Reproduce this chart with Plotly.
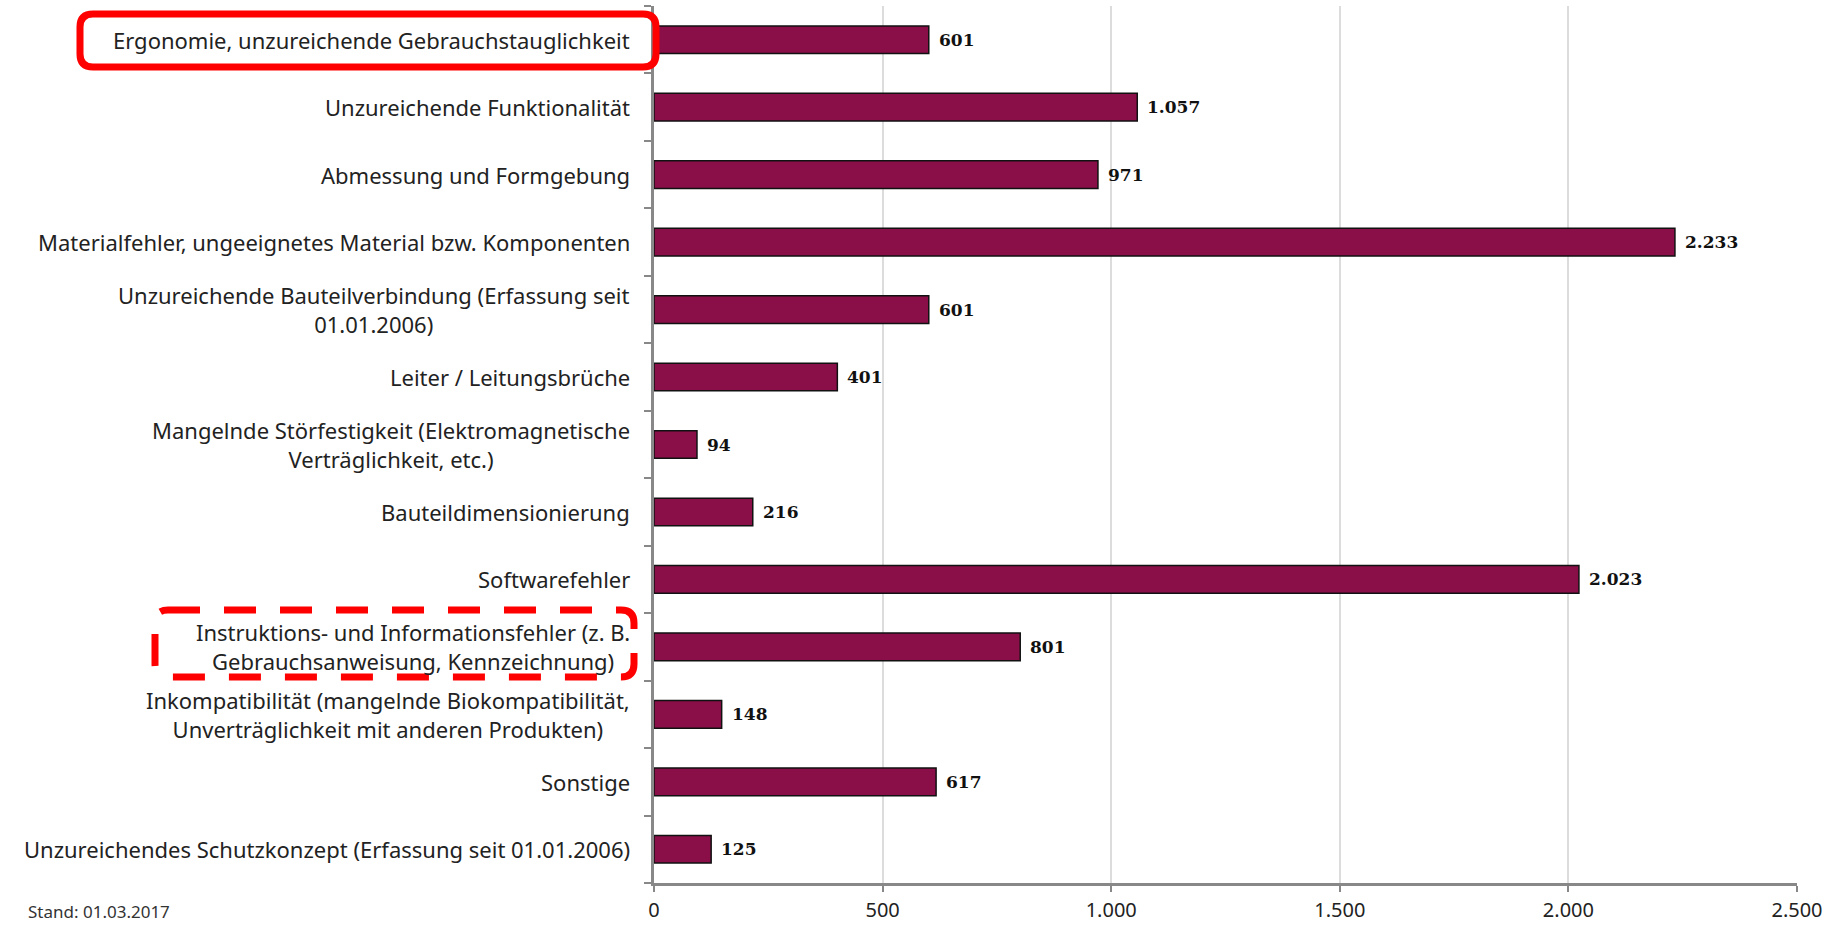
import plotly.graph_objects as go

categories = [
    "Ergonomie, unzureichende Gebrauchstauglichkeit",
    "Unzureichende Funktionalität",
    "Abmessung und Formgebung",
    "Materialfehler, ungeeignetes Material bzw. Komponenten",
    "Unzureichende Bauteilverbindung (Erfassung seit<br>01.01.2006)",
    "Leiter / Leitungsbrüche",
    "Mangelnde Störfestigkeit (Elektromagnetische<br>Verträglichkeit, etc.)",
    "Bauteildimensionierung",
    "Softwarefehler",
    "Instruktions- und Informationsfehler (z. B.<br>Gebrauchsanweisung, Kennzeichnung)",
    "Inkompatibilität (mangelnde Biokompatibilität,<br>Unverträglichkeit mit anderen Produkten)",
    "Sonstige",
    "Unzureichendes Schutzkonzept (Erfassung seit 01.01.2006)",
]
values = [601, 1057, 971, 2233, 601, 401, 94, 216, 2023, 801, 148, 617, 125]
x_ticks = [0, 500, 1000, 1500, 2000, 2500]

W, H = 1827, 925
L, R, T, B = 654, 1797, 6, 883
pw, ph = R - L, B - T

def px(x):
    return (x - L) / pw

def py(y):
    return 1 - (y - T) / ph

def rounded_path(x0, y0, x1, y1, r):
    rx, ry = r / pw, r / ph
    a, b, c, d = px(x0), py(y0), px(x1), py(y1)
    return (f"M {a+rx},{b} L {c-rx},{b} Q {c},{b} {c},{b-ry} "
            f"L {c},{d+ry} Q {c},{d} {c-rx},{d} L {a+rx},{d} "
            f"Q {a},{d} {a},{d+ry} L {a},{b-ry} Q {a},{b} {a+rx},{b} Z")

def fmt(v):
    return f"{v:,}".replace(",", ".")

ypos = list(range(len(categories)))

fig = go.Figure(go.Bar(
    x=values, y=ypos, orientation="h",
    marker=dict(color="#8A0F48", line=dict(color="#111111", width=1.5)),
    hoverinfo="skip",
))

annotations = []
for i, (c, v) in enumerate(zip(categories, values)):
    annotations.append(dict(
        x=0, xref="paper", y=i, yref="y", text=c, showarrow=False,
        xanchor="right", yanchor="middle", align="center", xshift=-22,
        font=dict(family="Noto Sans", size=22, color="#222222"),
    ))
    annotations.append(dict(
        x=v, xref="x", y=i, yref="y", text=fmt(v), showarrow=False,
        xanchor="left", yanchor="middle", xshift=8,
        font=dict(family="DejaVu Serif", size=17, color="#111111", weight="bold"),
    ))
annotations.append(dict(
    x=px(26), xref="paper", y=py(925), yref="paper", text="Stand: 01.03.2017",
    showarrow=False, xanchor="left", yanchor="bottom",
    font=dict(family="Noto Sans", size=17, color="#333333"),
))

shapes = [
    dict(type="path", xref="paper", yref="paper",
         path=rounded_path(80, 14, 656, 67, 13),
         line=dict(color="#FF0000", width=7), fillcolor="rgba(0,0,0,0)"),
    dict(type="path", xref="paper", yref="paper",
         path=rounded_path(155, 610, 634, 677, 13),
         line=dict(color="#FF0000", width=7, dash="32px,24px"), fillcolor="rgba(0,0,0,0)"),
]

fig.update_layout(
    width=W, height=H,
    margin=dict(l=L, r=W - R, t=T, b=H - B, autoexpand=False),
    paper_bgcolor="white", plot_bgcolor="white",
    showlegend=False, bargap=0.59,
    separators=",.",
    annotations=annotations, shapes=shapes,
    xaxis=dict(
        range=[0, 2500], tickvals=x_ticks, ticktext=[fmt(t) for t in x_ticks],
        showgrid=True, gridcolor="#DCDCDC", gridwidth=1.5,
        showline=True, linecolor="#888888", linewidth=2.5,
        ticks="outside", ticklen=6, tickcolor="#888888", tickwidth=2,
        ticklabelstandoff=1, automargin=False,
        tickfont=dict(family="Noto Sans", size=20, color="#222222"),
        zeroline=False, fixedrange=True,
    ),
    yaxis=dict(
        range=[len(categories) - 0.5, -0.5],
        tickvals=[i + 0.5 for i in range(-1, len(categories))],
        showticklabels=False, automargin=False,
        showline=True, linecolor="#888888", linewidth=2.5,
        ticks="outside", ticklen=7, tickcolor="#888888", tickwidth=1.5,
        showgrid=False, zeroline=False, fixedrange=True,
    ),
)

fig.write_html("out.html")
